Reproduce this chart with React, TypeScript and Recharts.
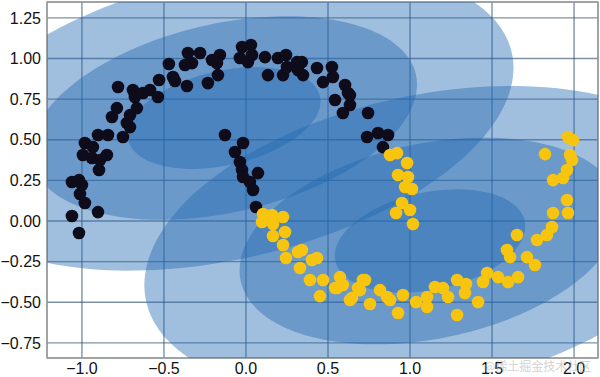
import React from 'react';
import { ScatterChart, Scatter, XAxis, YAxis, CartesianGrid, ReferenceArea } from 'recharts';

// Axis ranges and ticks
const X_DOMAIN: [number, number] = [-1.213, 2.146];
const Y_DOMAIN: [number, number] = [-0.843, 1.348];
const xTicks = [-1, -0.5, 0, 0.5, 1, 1.5, 2];
const xTickLabels = ['−1.0', '−0.5', '0.0', '0.5', '1.0', '1.5', '2.0'];
const yTicks = [-0.75, -0.5, -0.25, 0, 0.25, 0.5, 0.75, 1, 1.25];
const yTickLabels = ['−0.75', '−0.50', '−0.25', '0.00', '0.25', '0.50', '0.75', '1.00', '1.25'];

// Gaussian components: centre, 1-sigma semi axes, rotation (deg)
const componentCenters = [[-0.134, 0.634], [1.122, -0.123]];
const componentAxes = [[0.6, 0.29], [0.59, 0.3]];
const componentAngles = [13, 12];
const sigmaLevels = [1, 2, 3];

// Cluster 0 (upper moon)
const clusterA: [number, number][] = [
  [-1.061, 0.24], [-1.018, 0.252], [-1.0, 0.222], [-1.012, 0.166], [-0.982, 0.111], [-1.061, 0.031],
  [-0.902, 0.055], [-1.018, -0.074], [-0.982, 0.48], [-0.994, 0.406], [-0.939, 0.388], [-0.933, 0.455],
  [-0.896, 0.314], [-0.89, 0.375], [-0.848, 0.406], [-0.902, 0.529], [-0.841, 0.529], [-0.75, 0.517],
  [-0.707, 0.578], [-0.726, 0.603], [-0.817, 0.64], [-0.787, 0.695], [-0.665, 0.695], [-0.707, 0.652],
  [-0.78, 0.825], [-0.689, 0.806], [-0.677, 0.763], [-0.628, 0.788], [-0.585, 0.806], [-0.537, 0.763],
  [-0.53, 0.868], [-0.47, 0.966], [-0.445, 0.886], [-0.433, 0.862], [-0.36, 0.831], [-0.372, 0.96],
  [-0.354, 1.034], [-0.329, 0.972], [-0.28, 1.034], [-0.232, 0.849], [-0.207, 0.991], [-0.159, 1.022],
  [-0.171, 0.898], [-0.177, 0.972], [-0.128, 0.529], [-0.024, 1.071], [0.03, 1.083], [-0.037, 1.003],
  [0.012, 0.978], [0.037, 1.022], [-0.018, 0.48], [-0.067, 0.425], [-0.037, 0.363], [-0.024, 0.314],
  [-0.018, 0.271], [0.024, 0.24], [0.043, 0.191], [0.073, 0.295], [0.061, 0.086], [0.116, 1.009],
  [0.134, 0.898], [0.195, 1.003], [0.244, 1.022], [0.226, 0.898], [0.25, 0.948], [0.311, 0.978],
  [0.317, 0.929], [0.341, 0.978], [0.348, 0.898], [0.433, 0.942], [0.524, 0.948], [0.53, 0.886],
  [0.47, 0.855], [0.604, 0.837], [0.622, 0.788], [0.543, 0.745], [0.634, 0.714], [0.591, 0.665],
  [0.744, 0.665], [0.738, 0.517], [0.805, 0.542], [0.866, 0.529], [0.835, 0.455], [0.634, 0.775],
];

// Cluster 1 (lower moon)
const clusterB: [number, number][] = [
  [0.104, 0.043], [0.159, 0.037], [0.226, 0.025], [0.098, -0.006], [0.165, -0.018], [0.165, -0.092],
  [0.238, -0.068], [0.226, -0.148], [0.244, -0.228], [0.317, -0.191], [0.329, -0.289], [0.341, -0.178],
  [0.402, -0.24], [0.433, -0.228], [0.39, -0.363], [0.47, -0.363], [0.451, -0.462], [0.573, -0.345],
  [0.555, -0.412], [0.591, -0.394], [0.646, -0.474], [0.695, -0.425], [0.726, -0.363], [0.756, -0.511],
  [0.817, -0.425], [0.86, -0.468], [0.878, -0.486], [0.927, -0.566], [0.957, -0.455], [1.037, -0.498],
  [1.104, -0.468], [1.104, -0.529], [1.152, -0.406], [1.201, -0.412], [1.232, -0.468], [1.287, -0.363],
  [1.341, -0.388], [1.335, -0.443], [1.415, -0.498], [1.287, -0.578], [1.47, -0.32], [1.445, -0.375],
  [1.537, -0.345], [1.598, -0.375], [1.659, -0.345], [1.591, -0.178], [1.61, -0.222], [1.713, -0.222],
  [1.762, -0.271], [1.652, -0.086], [1.774, -0.117], [1.835, -0.086], [1.866, -0.037], [1.872, 0.049],
  [1.963, 0.049], [1.957, 0.129], [1.933, 0.265], [1.872, 0.252], [1.957, 0.314], [1.988, 0.375],
  [1.976, 0.406], [1.823, 0.412], [1.963, 0.517], [1.994, 0.498], [0.878, 0.406], [0.921, 0.418],
  [0.982, 0.357], [0.927, 0.283], [0.988, 0.271], [0.97, 0.209], [1.012, 0.197], [0.951, 0.111],
  [1.0, 0.068], [0.915, 0.049], [1.018, -0.018], [0.543, -0.412], [0.683, -0.412], [0.713, -0.363],
  [0.634, -0.486],
];

const ELLIPSE_COLOR = '#2268b0';
const ELLIPSE_OPACITY = 0.43;
const COLOR_A = '#0e0c1a';
const COLOR_B = '#f7c40f';

function ellipseOutline(cx: number, cy: number, a: number, b: number, deg: number) {
  const t = (deg * Math.PI) / 180;
  const pts: { x: number; y: number }[] = [];
  const n = 180;
  for (let i = 0; i <= n; i++) {
    const th = (2 * Math.PI * i) / n;
    pts.push({
      x: cx + a * Math.cos(th) * Math.cos(t) - b * Math.sin(th) * Math.sin(t),
      y: cy + a * Math.cos(th) * Math.sin(t) + b * Math.sin(th) * Math.cos(t),
    });
  }
  return pts;
}

const ellipses: { key: string; pts: { x: number; y: number }[] }[] = [];
componentCenters.forEach((c, ci) => {
  sigmaLevels.forEach((s) => {
    ellipses.push({
      key: `e${ci}-${s}`,
      pts: ellipseOutline(c[0], c[1], componentAxes[ci][0] * s, componentAxes[ci][1] * s, componentAngles[ci]),
    });
  });
});

const dataA = clusterA.map(([x, y]) => ({ x, y }));
const dataB = clusterB.map(([x, y]) => ({ x, y }));

const makeDot = (color: string) => (props: any) => (
  <circle cx={props.cx} cy={props.cy} r={6.3} fill={color} />
);
const NoShape = () => <g />;

const tickStyle = { fontFamily: '"Liberation Sans", Arial, sans-serif', fontSize: 16, fill: '#111' };

export default function App() {
  return (
    <div style={{ position: 'absolute', left: 0, top: 0, width: 600, height: 377, background: '#fff' }}>
      <ScatterChart width={600} height={377} margin={{ top: 2, right: 2, left: 0, bottom: 0 }}>
        <XAxis
          type="number"
          dataKey="x"
          domain={X_DOMAIN}
          allowDataOverflow
          ticks={xTicks}
          tickFormatter={(v: number) => xTickLabels[xTicks.indexOf(v)] ?? String(v)}
          tick={tickStyle}
          tickLine={false}
          tickSize={0}
          tickMargin={5}
          axisLine={false}
          height={19}
          interval={0}
        />
        <YAxis
          type="number"
          dataKey="y"
          domain={Y_DOMAIN}
          allowDataOverflow
          ticks={yTicks}
          tickFormatter={(v: number) => yTickLabels[yTicks.indexOf(v)] ?? String(v)}
          tick={tickStyle}
          tickLine={false}
          tickSize={0}
          tickMargin={6}
          axisLine={false}
          width={47}
          interval={0}
        />
        {ellipses.map((e) => (
          <Scatter
            key={e.key}
            data={e.pts}
            shape={NoShape}
            line={{ fill: ELLIPSE_COLOR, fillOpacity: ELLIPSE_OPACITY, stroke: 'none' }}
            isAnimationActive={false}
          />
        ))}
        <CartesianGrid stroke="#2a4866" strokeOpacity={0.6} strokeWidth={1.4} />
        <Scatter data={dataA} shape={makeDot(COLOR_A)} isAnimationActive={false} />
        <Scatter data={dataB} shape={makeDot(COLOR_B)} isAnimationActive={false} />
        <ReferenceArea
          x1={X_DOMAIN[0]}
          x2={X_DOMAIN[1]}
          y1={Y_DOMAIN[0]}
          y2={Y_DOMAIN[1]}
          fill="none"
          stroke="#a0a0a0"
          strokeWidth={1.5}
        />
      </ScatterChart>
      <div
        style={{
          position: 'absolute',
          left: 484,
          top: 358,
          fontFamily: '"Noto Sans CJK SC", sans-serif',
          fontSize: 12,
          lineHeight: '16px',
          color: 'rgba(170,170,170,0.55)',
          whiteSpace: 'nowrap',
        }}
      >
        @稀土掘金技术社区
      </div>
    </div>
  );
}
